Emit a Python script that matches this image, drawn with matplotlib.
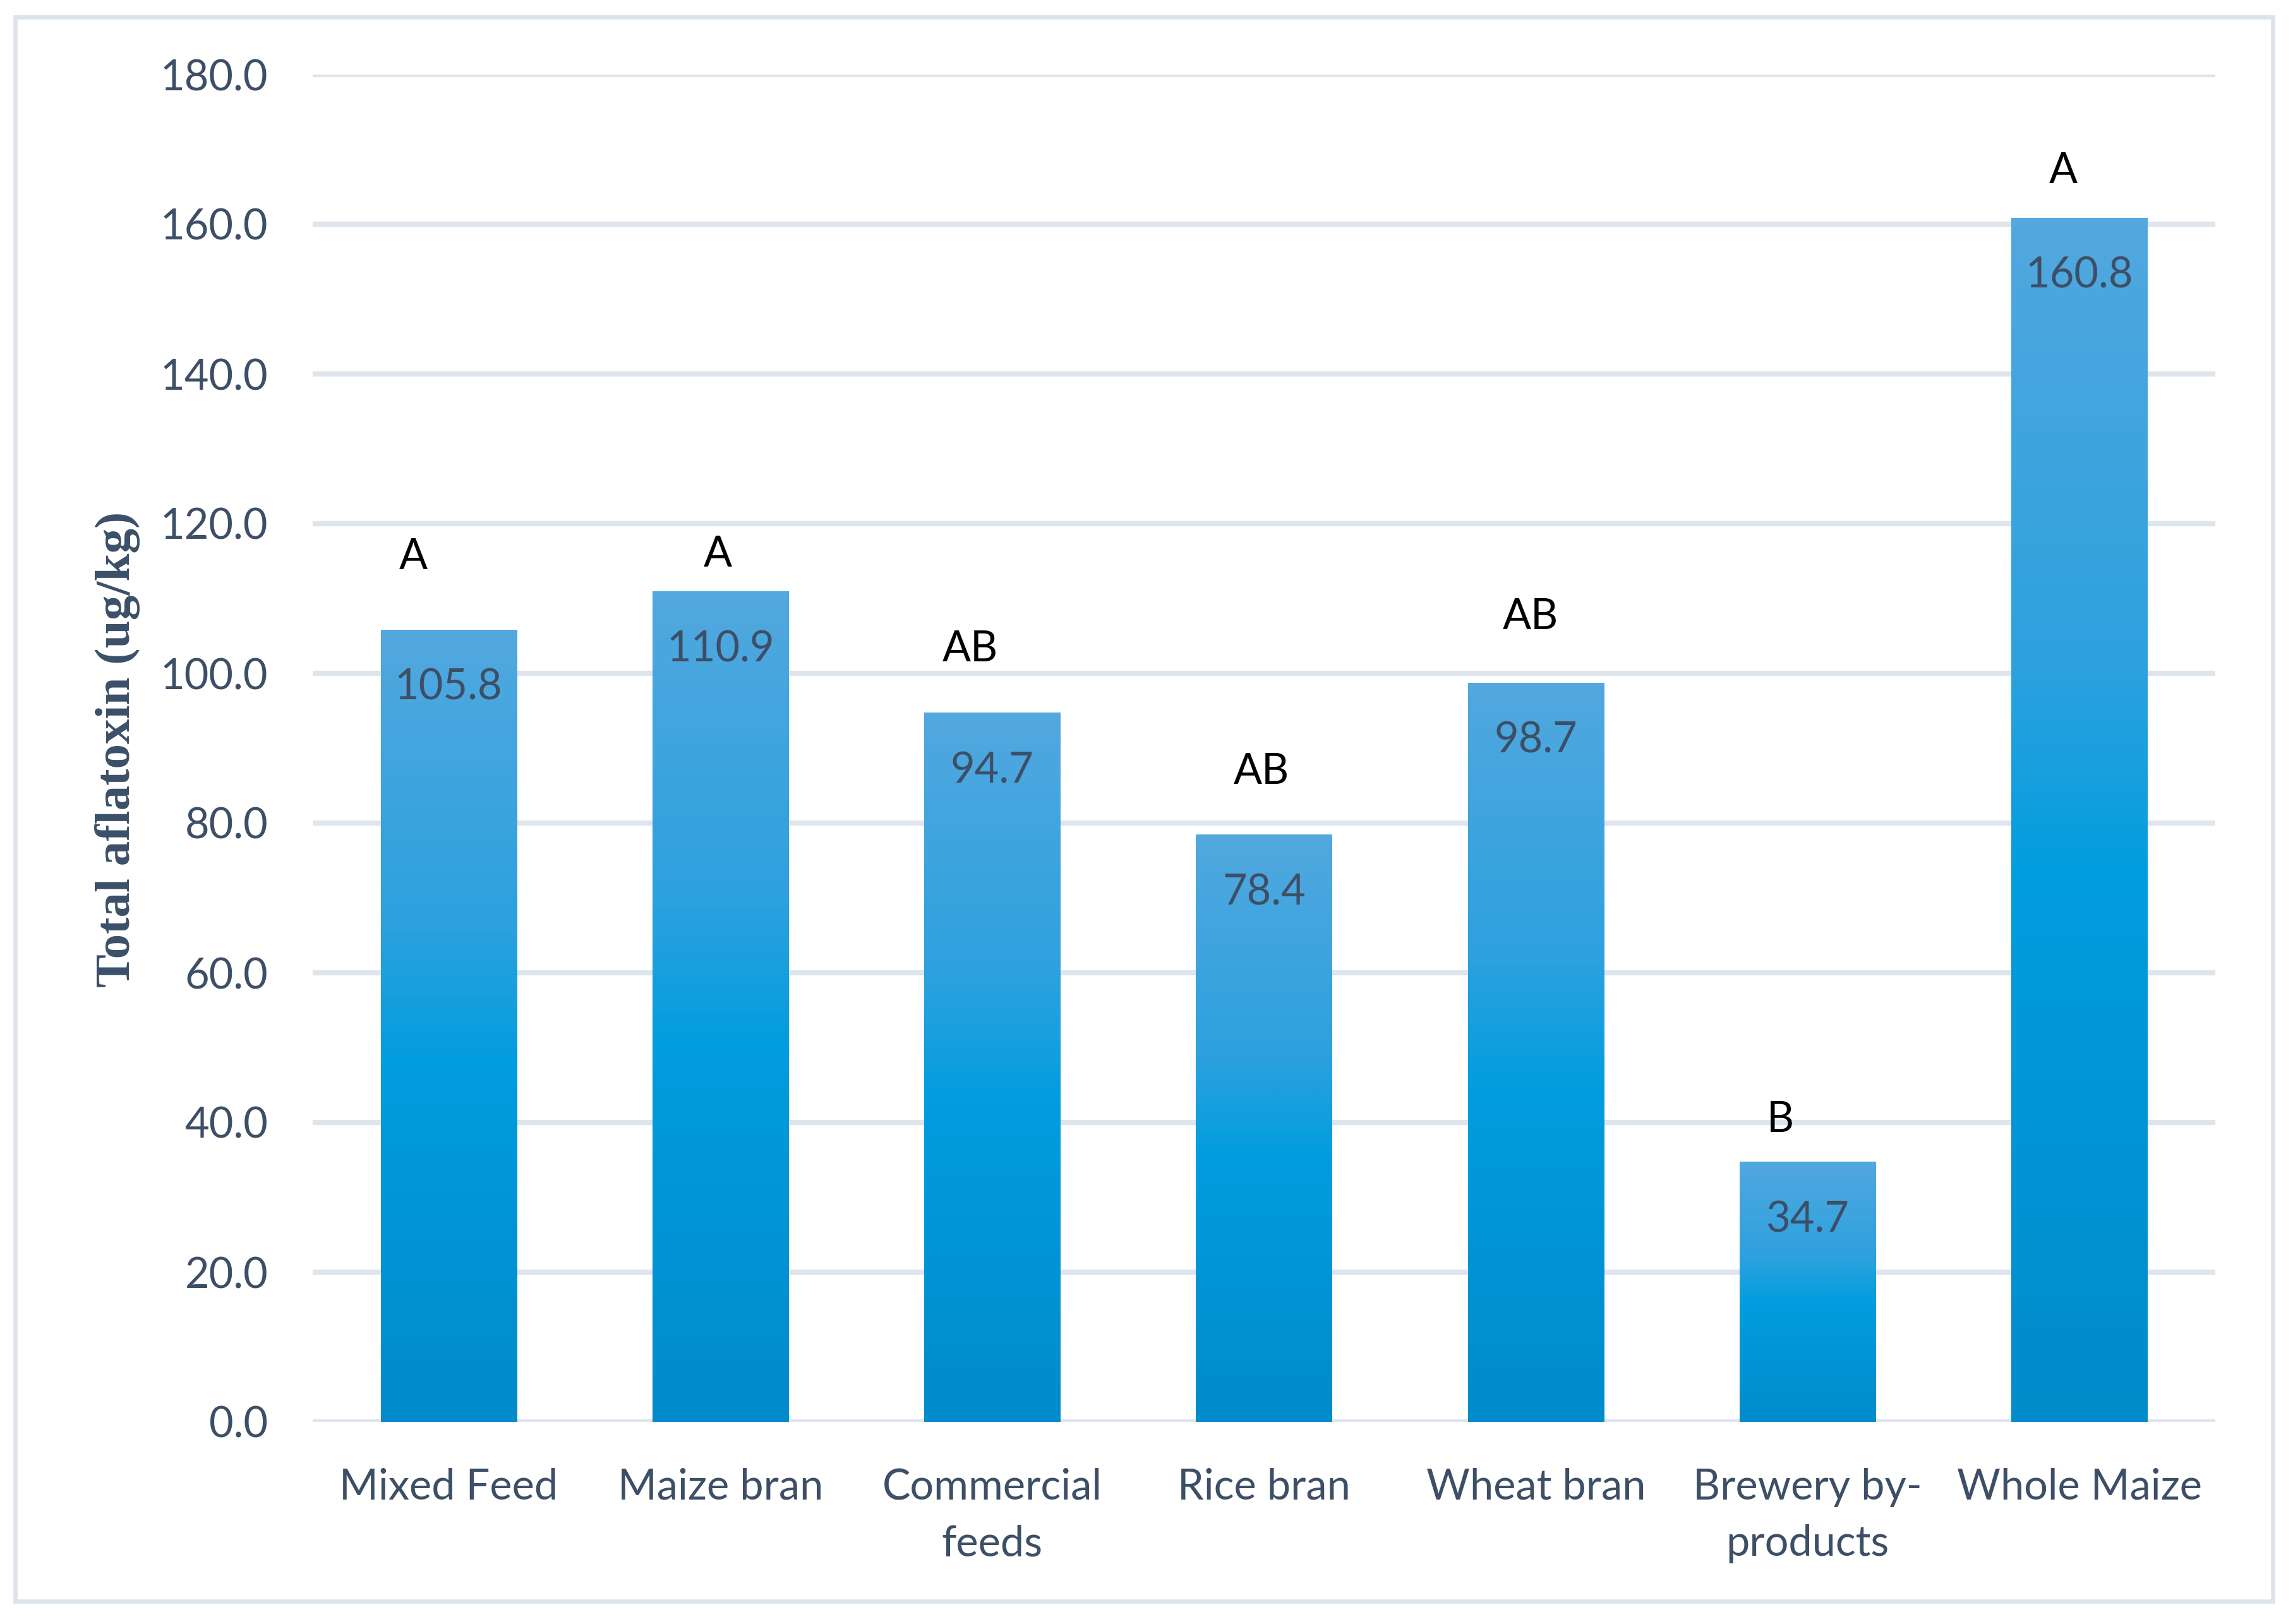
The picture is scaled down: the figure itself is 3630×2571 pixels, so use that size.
import numpy as np
import matplotlib.pyplot as plt
from matplotlib.colors import LinearSegmentedColormap
from matplotlib.patches import Rectangle

# data
categories = ['Mixed Feed', 'Maize bran', 'Commercial\nfeeds', 'Rice bran',
              'Wheat bran', 'Brewery by-\nproducts', 'Whole Maize']
values = [105.8, 110.9, 94.7, 78.4, 98.7, 34.7, 160.8]
letters = ['A', 'A', 'AB', 'AB', 'AB', 'B', 'A']
yticks = [0, 20, 40, 60, 80, 100, 120, 140, 160, 180]

# where the significance letters sit
letter_x = [-0.13, 0.99, 1.92, 2.99, 3.98, 4.90, 5.94]
letter_y = [115.5, 115.9, 103.2, 86.8, 107.5, 40.3, 167.1]

txt = '#3D4F66'
grid_c = '#DEE5EC'
font = 'Lato'

W, H = 3630, 2571
fig = plt.figure(figsize=(W / 300, H / 300), dpi=300)
ax = fig.add_axes([495 / W, 1 - 2251 / H, (3507 - 495) / W, (2251 - 118) / H])

# outer chart border
fig.patches.append(Rectangle((24 / W, 1 - 2535 / H), (3598 - 24) / W, (2535 - 27) / H,
                             transform=fig.transFigure, fill=False,
                             edgecolor='#DDE3EA', linewidth=1.6))

x = np.arange(len(categories))
bars = ax.bar(x, values, width=0.5, facecolor='none', edgecolor='none', zorder=2)

# vertical gradient like the Excel fill
cmap = LinearSegmentedColormap.from_list(
    'bar', [(0.0, '#008BCB'), (0.45, '#009DDE'), (0.62, '#2BA1DE'), (1.0, '#52A8DF')])
grad = np.linspace(0, 1, 256).reshape(-1, 1)
for b in bars:
    x0, w, h = b.get_x(), b.get_width(), b.get_height()
    ax.imshow(grad, extent=[x0, x0 + w, 0, h], origin='lower', aspect='auto',
              cmap=cmap, zorder=2, interpolation='bilinear')

ax.set_xlim(-0.5, len(categories) - 0.5)
ax.set_ylim(0, 180)
ax.set_yticks(yticks)
ax.set_yticklabels([f'{t:.1f}' for t in yticks], fontsize=16, color=txt, family=font)
ax.set_xticks(x)
ax.set_xticklabels(categories, fontsize=16, color=txt, family=font, linespacing=1.55)
ax.tick_params(axis='y', length=0, pad=17)
ax.tick_params(axis='x', length=0, pad=17.5)
ax.grid(axis='y', color=grid_c, linewidth=2.0, zorder=0)
ax.set_axisbelow(True)
for s in ax.spines.values():
    s.set_visible(False)

for xi, v in zip(x, values):
    ax.text(xi, v - 7.7, f'{v:.1f}', ha='center', va='center', fontsize=16,
            color=txt, family=font, zorder=3)

for lx, ly, lab in zip(letter_x, letter_y, letters):
    ax.text(lx, ly, lab, ha='center', va='center', fontsize=16, color='black',
            family=font, zorder=3)

fig.text(186 / W, 1 - 1186 / H, 'Total aflatoxin (ug/kg)', rotation=90,
         ha='center', va='center', fontsize=19, fontweight='bold',
         color='#3B5068', family='Liberation Serif')

fig.savefig('out.png', dpi=300)
